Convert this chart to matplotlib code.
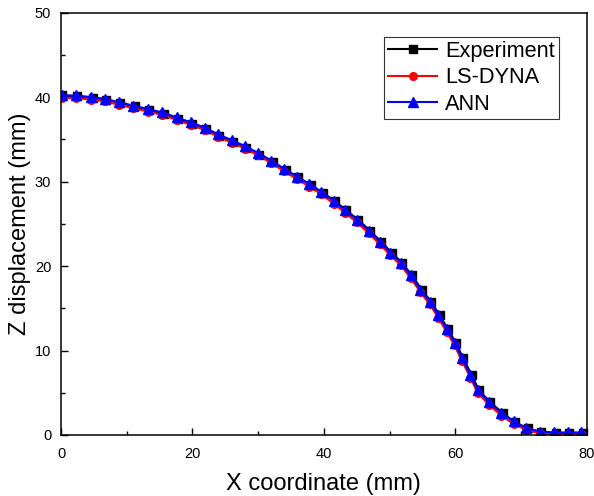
import matplotlib
matplotlib.use("Agg")
import matplotlib.pyplot as plt
from matplotlib.ticker import MultipleLocator

plt.rcParams['font.family'] = ['Liberation Sans', 'DejaVu Sans']

# Data
x_ann = [0.15, 2.3, 4.6, 6.7, 8.8, 11.0, 13.2, 15.4, 17.6, 19.8, 21.9, 23.9, 26.0, 28.0,
         30.0, 32.0, 34.0, 35.9, 37.8, 39.6, 41.5, 43.2, 45.0, 46.8, 48.5, 50.1, 51.7,
         53.2, 54.7, 56.1, 57.4, 58.7, 59.9, 61.0, 62.3, 63.4, 65.1, 67.0, 68.9, 70.8,
         72.9, 75.1, 77.1, 79.2]
y_ann = [40.2, 40.2, 40.0, 39.8, 39.4, 39.0, 38.6, 38.2, 37.6, 37.0, 36.4, 35.6, 34.9, 34.2,
         33.4, 32.5, 31.5, 30.6, 29.7, 28.8, 27.7, 26.6, 25.5, 24.2, 22.9, 21.6, 20.4,
         18.9, 17.2, 15.8, 14.2, 12.5, 10.9, 9.1, 7.1, 5.3, 3.9, 2.6, 1.6, 0.8,
         0.4, 0.3, 0.3, 0.3]

x_exp = [0.2, 2.5, 4.8, 6.9, 9.0, 11.2, 13.4, 15.6, 17.8, 20.0, 22.1, 24.1, 26.2, 28.2,
         30.2, 32.2, 34.2, 36.1, 38.0, 39.8, 41.7, 43.4, 45.2, 47.0, 48.7, 50.3, 51.9,
         53.4, 54.9, 56.3, 57.6, 58.9, 60.1, 61.2, 62.5, 63.6, 65.3, 67.2, 69.1, 71.0,
         73.1, 75.3, 77.3, 79.4]
y_exp = [40.2, 40.1, 39.9, 39.7, 39.3, 38.9, 38.5, 38.0, 37.4, 36.8, 36.2, 35.4, 34.7, 34.0,
         33.2, 32.3, 31.4, 30.5, 29.6, 28.7, 27.7, 26.6, 25.5, 24.2, 22.9, 21.6, 20.4,
         18.9, 17.2, 15.8, 14.2, 12.5, 10.9, 9.1, 7.1, 5.3, 3.9, 2.6, 1.5, 0.8,
         0.3, 0.2, 0.2, 0.2]

x_dyna = x_ann
y_dyna = [39.9, 39.9, 39.7, 39.5, 39.1, 38.7, 38.3, 37.9, 37.3, 36.7, 36.1, 35.3, 34.6, 33.9,
          33.1, 32.2, 31.2, 30.3, 29.4, 28.5, 27.4, 26.3, 25.2, 23.9, 22.6, 21.3, 20.1,
          18.6, 16.9, 15.5, 13.9, 12.2, 10.6, 8.8, 6.8, 5.0, 3.6, 2.3, 1.3, 0.6,
          0.2, 0.1, 0.1, 0.1]

fig = plt.figure(figsize=(5.94, 4.96), dpi=100)
ax = fig.add_axes([0.1027, 0.123, 0.8850, 0.8514])

ax.plot(x_exp, y_exp, color='black', marker='s', markersize=5.5, linewidth=1.5, label='Experiment')
ax.plot(x_dyna, y_dyna, color='red', marker='o', markersize=5.5, linewidth=1.5, label='LS-DYNA')
ax.plot(x_ann, y_ann, color='blue', marker='^', markersize=6.5, linewidth=1.5, label='ANN')

ax.set_xlim(0, 80)
ax.set_ylim(0, 50)
ax.xaxis.set_major_locator(MultipleLocator(20))
ax.xaxis.set_minor_locator(MultipleLocator(10))
ax.yaxis.set_major_locator(MultipleLocator(10))
ax.yaxis.set_minor_locator(MultipleLocator(5))
ax.tick_params(which='both', direction='in', top=False, right=False, labelsize=10.5, width=1.0)
ax.tick_params(axis='x', which='major', length=5, pad=9)
ax.tick_params(axis='y', which='major', length=5, pad=7)
ax.tick_params(which='minor', length=3)
for s in ax.spines.values():
    s.set_linewidth(1.1)

ax.set_xlabel('X coordinate (mm)', fontsize=17, labelpad=8)
ax.set_ylabel('Z displacement (mm)', fontsize=17, labelpad=3)

leg = ax.legend(loc='upper right', bbox_to_anchor=((559 - 61) / 525.7, 1 - (36.7 - 12.7) / 422.3),
                borderaxespad=0, fontsize=15.7, frameon=True, fancybox=False,
                edgecolor='black', handlelength=2.25, handletextpad=0.35,
                labelspacing=0.24, borderpad=0.2)
leg.get_frame().set_linewidth(0.8)

fig.savefig('out.png', dpi=100)
